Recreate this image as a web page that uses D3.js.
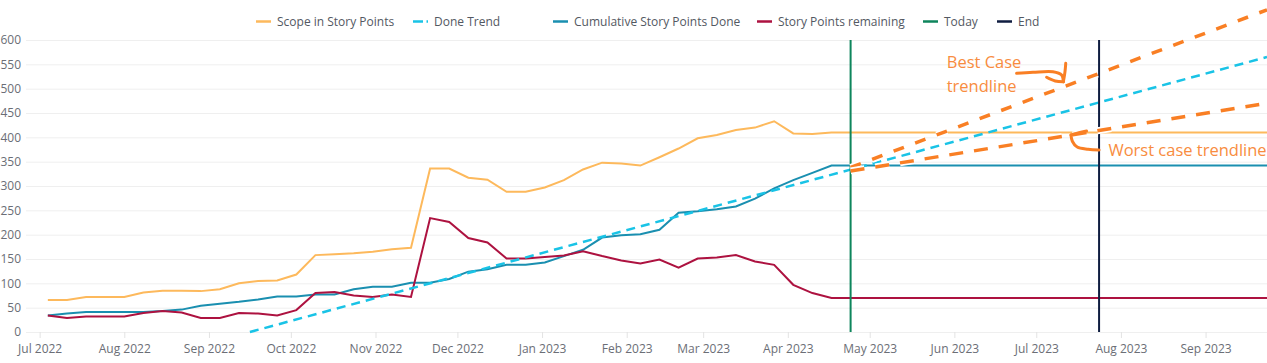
<!DOCTYPE html>
<html>
<head>
<meta charset="utf-8">
<script src="https://cdn.jsdelivr.net/npm/d3@7"></script>
<style>
  body { margin: 0; background: #fff; }
  svg { display: block; font-family: "Segoe UI", "Open Sans", sans-serif; }
</style>
</head>
<body>
<svg id="chart" width="1267" height="363"></svg>
<script>
// Weekly snapshots (every Monday)
var weeks = [
  "2022-07-04", "2022-07-11", "2022-07-18", "2022-07-25",
  "2022-08-01", "2022-08-08", "2022-08-15", "2022-08-22", "2022-08-29",
  "2022-09-05", "2022-09-12", "2022-09-19", "2022-09-26",
  "2022-10-03", "2022-10-10", "2022-10-17", "2022-10-24", "2022-10-31",
  "2022-11-07", "2022-11-14", "2022-11-21", "2022-11-28",
  "2022-12-05", "2022-12-12", "2022-12-19", "2022-12-26",
  "2023-01-02", "2023-01-09", "2023-01-16", "2023-01-23", "2023-01-30",
  "2023-02-06", "2023-02-13", "2023-02-20", "2023-02-27",
  "2023-03-06", "2023-03-13", "2023-03-20", "2023-03-27",
  "2023-04-03", "2023-04-10", "2023-04-17"
];

var scope = [66, 66, 72, 72, 72, 81, 85, 85, 84, 88, 100, 105, 106, 118, 158, 160, 162, 165, 170, 173,
  336, 336, 317, 313, 288, 288, 297, 312, 334, 348, 346, 342, 359, 377, 398, 405, 415, 420, 433, 408, 407, 410];

var done = [34, 38, 41, 41, 41, 41, 43, 46, 54, 58, 62, 67, 73, 73, 77, 77, 88, 93, 93, 101,
  101, 109, 124, 129, 138, 138, 143, 156, 169, 194, 199, 201, 210, 245, 248, 252, 258, 274, 295, 312, 327, 342];

var remaining = [34, 29, 32, 32, 32, 39, 43, 40, 29, 29, 39, 38, 34, 45, 80, 82, 75, 72, 77, 72,
  234, 226, 193, 184, 151, 151, 154, 157, 166, 156, 147, 141, 149, 132, 151, 153, 158, 145, 138, 97, 80, 70];

// Done trend (linear fit), start and end of the drawn segment
var trendDates = ["2022-09-16", "2023-09-23T12:00Z"];
var trendValues = [0, 565];

var todayDate = "2023-04-24";
var endDate = "2023-07-24";

// Hand drawn best / worst case projections
var bestDates = ["2023-04-24", "2023-09-23T12:00Z"];
var bestValues = [338, 662];
var worstDates = ["2023-04-24", "2023-09-23T12:00Z"];
var worstValues = [331, 470];

// Ink arrows, as [days after 2022-07-01, value]
var annoBase = "2022-07-01";
var bestArrow = [[357.8, 531.6], [363.8, 533.6], [371.1, 534.9], [374.3, 528.1], [374.9, 514.3]];
var bestArrowHook = [[368.8, 523.4], [371.9, 515.8], [374.9, 514.3]];
var bestArrowTail = [[375.8, 552.1], [375.5, 534.2], [374.9, 514.3]];
var worstArrow = [[388.0, 374.0], [384.0, 375.5], [380.0, 380.0], [378.2, 392.0], [377.7, 404.8]];
var worstArrowHead = [[377.7, 404.8], [380.6, 409.5], [383.4, 413.0]];

var yTicks = [0, 50, 100, 150, 200, 250, 300, 350, 400, 450, 500, 550, 600];

var legendNames = ["Scope in Story Points", "Done Trend", "Cumulative Story Points Done",
  "Story Points remaining", "Today", "End"];
var legendColors = ["#fdb95c", "#19c3e6", "#1a8fb0", "#ad1240", "#0e855c", "#0f1d40"];
var legendX = [256, 413, 553, 757, 923, 997];

var parse = d3.isoParse;

var svg = d3.select("#chart");

var x = d3.scaleUtc()
    .domain([parse("2022-06-26"), parse("2023-09-23T12:00Z")])
    .range([26, 1267]);

var y = d3.scaleLinear()
    .domain([0, 600])
    .range([332, 40]);

function dayPoint(p) {
  return [x(d3.utcHour.offset(parse(annoBase), Math.round(p[0] * 24))), y(p[1])];
}

// gridlines
svg.append("g")
  .selectAll("line")
  .data(yTicks)
  .join("line")
    .attr("x1", x.range()[0])
    .attr("x2", x.range()[1])
    .attr("y1", function(d) { return y(d) + 0.5; })
    .attr("y2", function(d) { return y(d) + 0.5; })
    .attr("stroke", "#efefef")
    .attr("stroke-width", 1);

// y labels
svg.append("g")
  .selectAll("text")
  .data(yTicks)
  .join("text")
    .attr("x", 21)
    .attr("y", function(d) { return y(d); })
    .attr("dy", "0.35em")
    .attr("text-anchor", "end")
    .attr("font-size", 12)
    .attr("fill", "#6b6e76")
    .text(function(d) { return d; });

// x axis
var xAxis = svg.append("g")
    .attr("transform", "translate(0," + y(0) + ")")
    .call(d3.axisBottom(x)
      .ticks(d3.utcMonth.every(1))
      .tickFormat(d3.utcFormat("%b %Y"))
      .tickSize(6)
      .tickPadding(6));
xAxis.select(".domain").remove();
xAxis.selectAll(".tick line").attr("stroke", "#e3e3e3");
xAxis.selectAll(".tick text")
    .attr("font-size", 12)
    .attr("font-family", "\"Segoe UI\", \"Open Sans\", sans-serif")
    .attr("fill", "#6b6e76");

var line = d3.line()
    .x(function(d) { return x(d.date); })
    .y(function(d) { return y(d.value); });

// weekly series, carried flat to the end of the axis
function series(values) {
  var pts = weeks.map(function(w, i) { return { date: parse(w), value: values[i] }; });
  pts.push({ date: x.domain()[1], value: values[values.length - 1] });
  return pts;
}

function pairs(dates, values) {
  return dates.map(function(d, i) { return { date: parse(d), value: values[i] }; });
}

svg.append("path")
    .datum(series(scope))
    .attr("fill", "none")
    .attr("stroke", legendColors[0])
    .attr("stroke-width", 2)
    .attr("d", line);

svg.append("path")
    .datum(series(done))
    .attr("fill", "none")
    .attr("stroke", legendColors[2])
    .attr("stroke-width", 2)
    .attr("d", line);

svg.append("path")
    .datum(series(remaining))
    .attr("fill", "none")
    .attr("stroke", legendColors[3])
    .attr("stroke-width", 2)
    .attr("d", line);

svg.append("path")
    .datum(pairs(trendDates, trendValues))
    .attr("fill", "none")
    .attr("stroke", legendColors[1])
    .attr("stroke-width", 2.5)
    .attr("stroke-dasharray", "9,6")
    .attr("d", line);

// Today / End markers
[[todayDate, legendColors[4]], [endDate, legendColors[5]]].forEach(function(m) {
  svg.append("line")
      .attr("x1", x(parse(m[0])))
      .attr("x2", x(parse(m[0])))
      .attr("y1", y(600))
      .attr("y2", y(0))
      .attr("stroke", m[1])
      .attr("stroke-width", 2);
});

// ink annotations
var ink = "#f97f24";
[[bestDates, bestValues, "11,12"], [worstDates, worstValues, "14,11"]].forEach(function(t) {
  var data = pairs(t[0], t[1]);
  svg.append("path")
      .datum(data)
      .attr("fill", "none")
      .attr("stroke", "#fff")
      .attr("stroke-width", 7)
      .attr("stroke-dasharray", t[2])
      .attr("d", line);
  svg.append("path")
      .datum(data)
      .attr("fill", "none")
      .attr("stroke", ink)
      .attr("stroke-width", 3.5)
      .attr("stroke-dasharray", t[2])
      .attr("d", line);
});

var inkLine = d3.line().curve(d3.curveCatmullRom);
[bestArrow, bestArrowHook, bestArrowTail, worstArrow, worstArrowHead].forEach(function(a) {
  svg.append("path")
      .attr("d", inkLine(a.map(dayPoint)))
      .attr("fill", "none")
      .attr("stroke", ink)
      .attr("stroke-width", 3)
      .attr("stroke-linecap", "round")
      .attr("stroke-linejoin", "round");
});

var notes = [
  { text: "Best Case", at: [332.2, 541.8] },
  { text: "trendline", at: [332.2, 493.7] },
  { text: "Worst case trendline", at: [391.4, 362] }
];
svg.append("g")
  .selectAll("text")
  .data(notes)
  .join("text")
    .attr("x", function(d) { return dayPoint(d.at)[0]; })
    .attr("y", function(d) { return dayPoint(d.at)[1]; })
    .attr("font-size", 16.5)
    .attr("fill", "#f88c40")
    .text(function(d) { return d.text; });

// legend
var legend = svg.append("g")
    .attr("transform", "translate(0,21.5)");

var item = legend.selectAll("g")
  .data(legendNames)
  .join("g")
    .attr("transform", function(d, i) { return "translate(" + legendX[i] + ",0)"; });

item.append("line")
    .attr("x1", 0)
    .attr("x2", 15)
    .attr("stroke", function(d, i) { return legendColors[i]; })
    .attr("stroke-width", 2.5)
    .attr("stroke-dasharray", function(d, i) { return i === 1 ? "10,3.5" : null; });

item.append("text")
    .attr("x", 21)
    .attr("dy", "0.35em")
    .attr("font-size", 12)
    .attr("fill", "#535862")
    .text(function(d) { return d; });
</script>
</body>
</html>
